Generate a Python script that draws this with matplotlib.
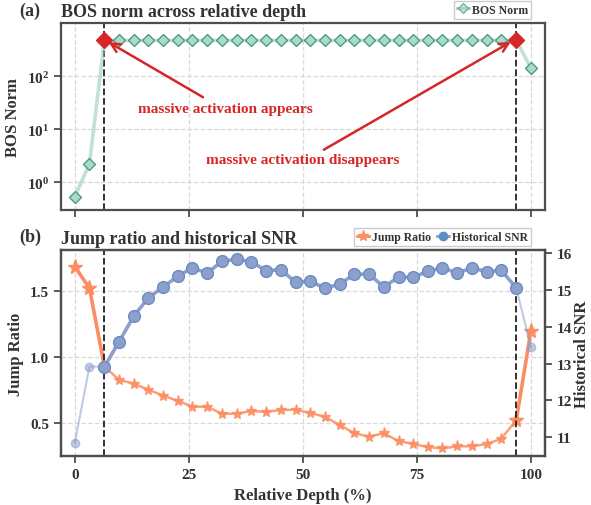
import math
import matplotlib
matplotlib.use("Agg")
import matplotlib.pyplot as plt
from matplotlib.lines import Line2D
from matplotlib.ticker import FixedLocator, FuncFormatter

plt.rcParams['font.family'] = ['Liberation Serif', 'DejaVu Serif']
plt.rcParams['font.weight'] = 'bold'
plt.rcParams['mathtext.fontset'] = 'custom'
plt.rcParams['mathtext.rm'] = 'Liberation Serif:bold'
plt.rcParams['mathtext.bf'] = 'Liberation Serif:bold'
plt.rcParams['mathtext.it'] = 'Liberation Serif:bold'

# ---------------- data ----------------
depth = [0.0, 3.2, 6.5, 9.7, 12.9, 16.1, 19.4, 22.6, 25.8, 29.0, 32.3, 35.5,
         38.7, 41.9, 45.2, 48.4, 51.6, 54.8, 58.1, 61.3, 64.5, 67.7, 71.0,
         74.2, 77.4, 80.6, 83.9, 87.1, 90.3, 93.5, 96.8, 100.0]
bos_norm = [0.53, 2.24, 470, 470, 470, 470, 470, 470, 470, 470, 470, 470,
            470, 470, 470, 470, 470, 470, 470, 470, 470, 470, 470, 470,
            470, 470, 470, 470, 470, 470, 470, 141]
jump_ratio = [1.686, 1.525, 0.929, 0.83, 0.80, 0.755, 0.71, 0.67, 0.626, 0.626,
              0.573, 0.573, 0.593, 0.588, 0.60, 0.604, 0.578, 0.55, 0.487,
              0.424, 0.40, 0.424, 0.366, 0.343, 0.32, 0.31, 0.326, 0.326,
              0.343, 0.383, 0.525, 1.20]
hist_snr = [10.85, 12.92, 12.92, 13.60, 14.29, 14.79, 15.09, 15.38, 15.61,
            15.46, 15.79, 15.84, 15.77, 15.53, 15.56, 15.21, 15.25, 15.05,
            15.17, 15.43, 15.44, 15.09, 15.35, 15.35, 15.51, 15.61, 15.46,
            15.61, 15.50, 15.54, 15.06, 13.46]
start_idx = 2   # massive activation appears
end_idx = 30    # massive activation disappears
x_ticks = [0, 25, 50, 75, 100]
bos_ticks = [1, 10, 100]
jump_ticks = [0.5, 1.0, 1.5]
snr_ticks = [11, 12, 13, 14, 15, 16]

# ---------------- style ----------------
C_GREEN = '#66c2a5'
C_GREEN_FACE = '#a9dcc8'
C_GREEN_EDGE = '#4f9c7e'
C_RED = '#d62728'
C_ORANGE = '#fc8d62'
C_BLUE = '#8da0cb'
C_BLUE_EDGE = '#6a8cc6'
SPINE = '#4d4d4d'
TXT = '#333333'

fig = plt.figure(figsize=(5.91, 5.06), dpi=100)
ax1 = fig.add_axes([0.1027, 0.583, 0.8195, 0.3696])
ax2 = fig.add_axes([0.1027, 0.0962, 0.8195, 0.4083])


def style_axis(ax):
    for sp in ax.spines.values():
        sp.set_color(SPINE)
        sp.set_linewidth(1.6)
    ax.tick_params(axis='both', which='major', direction='out', length=5,
                   width=1.3, color=SPINE, labelsize=11, labelcolor=TXT)
    ax.tick_params(which='minor', length=0)


# ---------------- panel (a) ----------------
ax1.set_yscale('log')
ax1.plot(depth, bos_norm, color='#8fc9b3', lw=2.6, alpha=0.55, zorder=2)
ax1.plot(depth, bos_norm, ls='none', marker='D', ms=6.5, mfc=C_GREEN_FACE,
         mec=C_GREEN_EDGE, mew=1.0, zorder=3)
ax1.plot([depth[start_idx], depth[end_idx]],
         [bos_norm[start_idx], bos_norm[end_idx]], ls='none', marker='D',
         ms=8.5, mfc=C_RED, mec=C_RED, zorder=4)
for i in (start_idx, end_idx):
    ax1.axvline(depth[i], color='#222222', ls='--', lw=1.3, zorder=1)

ax1.set_xlim(-3.1, 103.1)
ax1.set_ylim(0.3, 1000)
ax1.xaxis.set_major_locator(FixedLocator(x_ticks))
ax1.set_xticklabels([])
ax1.yaxis.set_major_locator(FixedLocator(bos_ticks))
ax1.yaxis.set_major_formatter(FuncFormatter(
    lambda v, p: r'$\mathbf{10^{%d}}$' % round(math.log10(v))))
ax1.grid(True, ls='--', color='#d9d9d9', lw=0.9)
ax1.set_axisbelow(True)
style_axis(ax1)
ax1.set_ylabel('BOS Norm', fontsize=12, fontweight='bold', color=TXT)
ax1.set_title('BOS norm across relative depth', loc='left', fontsize=13,
              fontweight='bold', color=TXT, pad=5)
ax1.text(-0.085, 1.022, '(a)', transform=ax1.transAxes, fontsize=13,
         fontweight='bold', color=TXT, ha='left', va='bottom')

ax1.text(33.0, 24, 'massive activation appears', color=C_RED, fontsize=11,
         fontweight='bold', ha='center', va='center')
ax1.annotate('', xy=(7.4, 435), xytext=(28.1, 40),
             arrowprops=dict(arrowstyle='->', color=C_RED, lw=1.8,
                             mutation_scale=16, shrinkA=0, shrinkB=0))
ax1.text(50.0, 2.7, 'massive activation disappears', color=C_RED,
         fontsize=11, fontweight='bold', ha='center', va='center')
ax1.annotate('', xy=(95.6, 440), xytext=(54.6, 4.1),
             arrowprops=dict(arrowstyle='->', color=C_RED, lw=1.8,
                             mutation_scale=16, shrinkA=0, shrinkB=0))

leg1 = ax1.legend(handles=[Line2D([], [], color=C_GREEN, lw=2, alpha=0.7,
                                  marker='D', ms=5, mfc=C_GREEN_FACE,
                                  mec=C_GREEN_EDGE)],
                  labels=['BOS Norm'], loc='lower right',
                  bbox_to_anchor=(0.984, 0.992), fontsize=8.5,
                  handlelength=1.0, handletextpad=0.3, borderpad=0.25,
                  fancybox=False, edgecolor='#cccccc', framealpha=1)
for t in leg1.get_texts():
    t.set_fontweight('bold')
    t.set_color(TXT)

# ---------------- panel (b) ----------------
ax3 = ax2.twinx()
s, e = start_idx, end_idx
# jump ratio: emphasised before / after the massive-activation range
ax2.plot(depth[s:e + 1], jump_ratio[s:e + 1], color=C_ORANGE, lw=1.8,
         alpha=0.85, marker='*', ms=8, zorder=3)
ax2.plot(depth[:s + 1], jump_ratio[:s + 1], color=C_ORANGE, lw=2.6,
         marker='*', ms=11, markevery=[0, 1], zorder=4)
ax2.plot(depth[e:], jump_ratio[e:], color=C_ORANGE, lw=2.6, marker='*',
         ms=11, zorder=4)
# historical SNR: emphasised inside the range
ax3.plot(depth[:s + 1], hist_snr[:s + 1], color=C_BLUE, lw=1.5, alpha=0.55,
         marker='o', ms=6, markevery=[0, 1], zorder=2)
ax3.plot(depth[e:], hist_snr[e:], color=C_BLUE, lw=1.5, alpha=0.55,
         marker='o', ms=6, markevery=[1], zorder=2)
ax3.plot(depth[s:e + 1], hist_snr[s:e + 1], color=C_BLUE, lw=2.6,
         marker='o', ms=8.5, mfc=C_BLUE, mec=C_BLUE_EDGE, mew=1.0, zorder=3)
for i in (start_idx, end_idx):
    ax2.axvline(depth[i], color='#222222', ls='--', lw=1.3, zorder=5)

ax2.set_xlim(-3.1, 103.1)
ax2.set_ylim(0.25, 1.815)
ax3.set_ylim(10.48, 16.1)
ax2.xaxis.set_major_locator(FixedLocator(x_ticks))
ax2.yaxis.set_major_locator(FixedLocator(jump_ticks))
ax2.yaxis.set_major_formatter(FuncFormatter(lambda v, p: '%.1f' % v))
ax3.yaxis.set_major_locator(FixedLocator(snr_ticks))
ax2.grid(True, ls='--', color='#d9d9d9', lw=0.9)
ax2.set_axisbelow(True)
style_axis(ax2)
style_axis(ax3)
ax2.set_ylabel('Jump Ratio', fontsize=12, fontweight='bold', color=TXT)
ax3.set_ylabel('Historical SNR', fontsize=12, fontweight='bold', color=TXT,
               labelpad=1)
ax2.set_xlabel('Relative Depth (%)', fontsize=12, fontweight='bold',
               color=TXT)
ax2.set_title('Jump ratio and historical SNR', loc='left', fontsize=13,
              fontweight='bold', color=TXT, pad=5)
ax2.text(-0.085, 1.022, '(b)', transform=ax2.transAxes, fontsize=13,
         fontweight='bold', color=TXT, ha='left', va='bottom')

h_jump = Line2D([], [], color=C_ORANGE, lw=2, marker='*', ms=8)
h_snr = Line2D([], [], color=C_BLUE, lw=2, marker='o', ms=6,
               mfc='#5b8ec4', mec='#5b8ec4')
leg2 = ax3.legend(handles=[h_jump, h_snr],
                  labels=['Jump Ratio', 'Historical SNR'], loc='lower right',
                  bbox_to_anchor=(0.984, 0.99), ncol=2, fontsize=8.5,
                  handlelength=1.0, handletextpad=0.3, columnspacing=0.5,
                  borderpad=0.25, fancybox=False, edgecolor='#cccccc',
                  framealpha=1)
for t in leg2.get_texts():
    t.set_fontweight('bold')
    t.set_color(TXT)

fig.savefig('out.png', dpi=100)
